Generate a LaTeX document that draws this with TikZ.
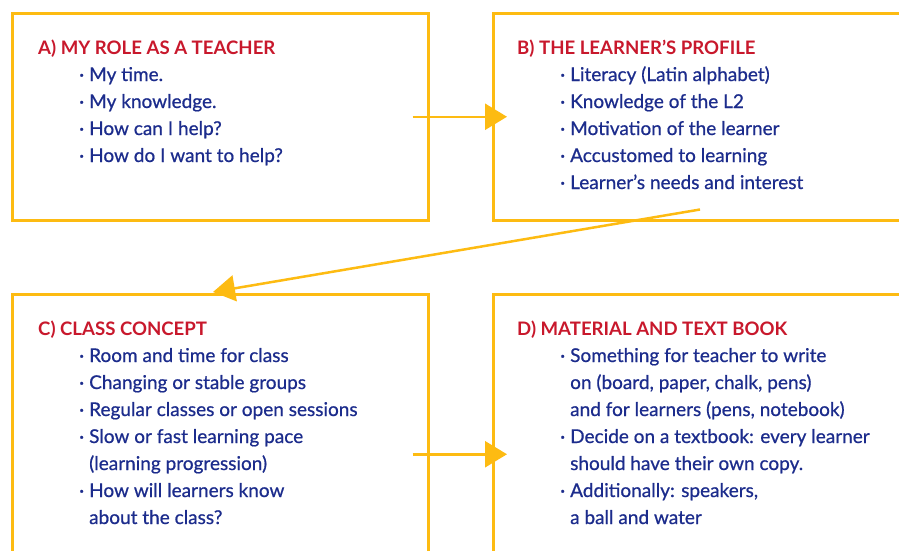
\documentclass[tikz,border=0pt]{standalone}
\usepackage{fontspec}
\setmainfont{Lato}
\newfontfamily\bodyfont[FakeBold=0.7]{Lato}
\usetikzlibrary{arrows.meta}
\definecolor{boxyellow}{RGB}{253,187,18}
\definecolor{titlered}{RGB}{200,24,44}
\definecolor{textblue}{RGB}{28,44,140}
\newcommand{\itm}{\makebox[10pt][l]{·}}
\newcommand{\cont}{\hspace*{10pt}}
\tikzset{
  box/.style={draw=boxyellow, line width=2.5pt, rectangle, inner sep=0pt, anchor=north west},
  flow/.style={draw=boxyellow, line width=2.5pt, -{Triangle[length=22pt,width=26pt]}},
  boxtitle/.style={anchor=base west, inner sep=0pt, text=titlered, font=\fontsize{18.6}{20}\selectfont\bfseries},
  body/.style={anchor=base west, inner sep=0pt, text=textblue, font=\bodyfont\fontsize{19}{20}\selectfont},
}
\begin{document}
\begin{tikzpicture}[x=1pt,y=1pt]
\useasboundingbox (0,0) rectangle (899,-550);
% boxes
\node[box, minimum width=416pt, minimum height=207pt] (A) at (11,-12) {};
\node[box, minimum width=430pt, minimum height=207pt] (B) at (492,-12) {};
\node[box, minimum width=416pt, minimum height=320pt] (C) at (11,-293) {};
\node[box, minimum width=430pt, minimum height=320pt] (D) at (492,-293) {};
% titles
\node[boxtitle] (At) at (38,-54) {A) MY ROLE AS A TEACHER};
\node[boxtitle] (Bt) at (517,-54) {B) THE LEARNER’S PROFILE};
\node[boxtitle] (Ct) at (38,-335) {C) CLASS CONCEPT};
\node[boxtitle] (Dt) at (517,-335) {D) MATERIAL AND TEXT BOOK};
% bodies
\foreach \t [count=\i] in {{\itm My time.},{\itm My knowledge.},{\itm How can I help?},{\itm How do I want to help?}}
  \node[body] (A\i) at (79,{-54-27*\i}) {\t};
\foreach \t [count=\i] in {{\itm Literacy (Latin alphabet)},{\itm Knowledge of the L2},{\itm Motivation of the learner},{\itm Accustomed to learning},{\itm Learner’s needs and interest}}
  \node[body] (B\i) at (560,{-54-27*\i}) {\t};
\foreach \t [count=\i] in {{\itm Room and time for class},{\itm Changing or stable groups},{\itm Regular classes or open sessions},{\itm Slow or fast learning pace},{\cont(learning progression)},{\itm How will learners know},{\cont about the class?}}
  \node[body] (C\i) at (79,{-335-27*\i}) {\t};
\foreach \t [count=\i] in {{\itm Something for teacher to write},{\cont on (board, paper, chalk, pens)},{\cont and for learners (pens, notebook)},{\itm Decide on a textbook: every learner},{\cont should have their own copy.},{\itm Additionally: speakers,},{\cont a ball and water}}
  \node[body] (D\i) at (560,{-335-27*\i}) {\t};
% connectors
\draw[flow] ([xshift=-17pt]A.east) -- ([xshift=15pt]B.west);
\draw[flow] ([shift={(208pt,12pt)}]B.south west) -- ([shift={(202pt,1pt)}]C.north west);
\draw[flow] ([xshift=-17pt]C.east) -- ([xshift=15pt]D.west);
\end{tikzpicture}
\end{document}
